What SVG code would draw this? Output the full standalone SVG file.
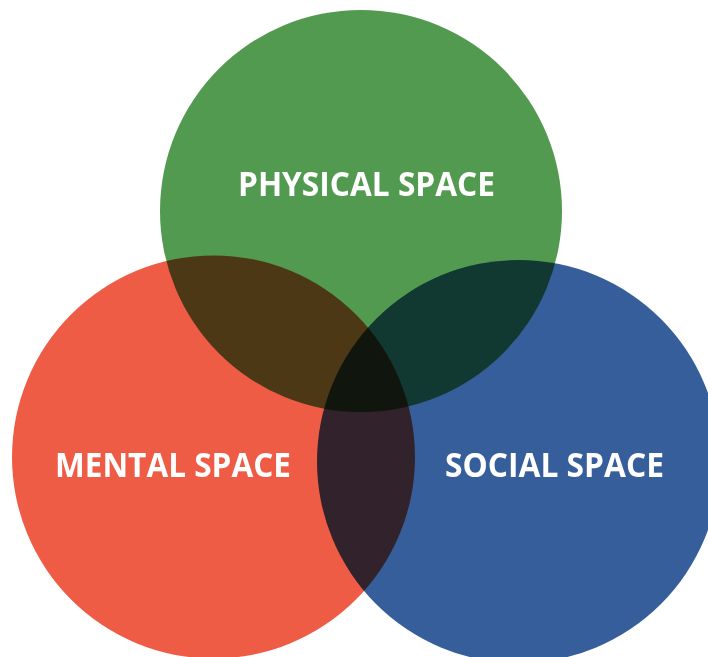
<svg xmlns="http://www.w3.org/2000/svg" width="708" height="657" viewBox="0 0 708 657">
<style>
.c{mix-blend-mode:multiply}
.t{font-family:"Open Sans","Noto Sans","Liberation Sans",sans-serif;font-weight:700;font-size:34px;fill:#ffffff}
</style>
<rect x="0" y="0" width="708" height="657" fill="#ffffff"/>
<g id="circles" style="isolation:isolate">
<g id="physical"><circle class="c" cx="361" cy="211" r="201" fill="#529a50"/></g>
<g id="mental"><circle class="c" cx="213.5" cy="457" r="201.5" fill="#ef5c46"/></g>
<g id="social"><circle class="c" cx="518.5" cy="461.5" r="201.5" fill="#355e9a"/></g>
</g>
<g id="labels">
<text class="t" x="238" y="196" textLength="257" lengthAdjust="spacingAndGlyphs">PHYSICAL SPACE</text>
<text class="t" x="55" y="477" textLength="236" lengthAdjust="spacingAndGlyphs">MENTAL SPACE</text>
<text class="t" x="445" y="477" textLength="219" lengthAdjust="spacingAndGlyphs">SOCIAL SPACE</text>
</g>
</svg>
